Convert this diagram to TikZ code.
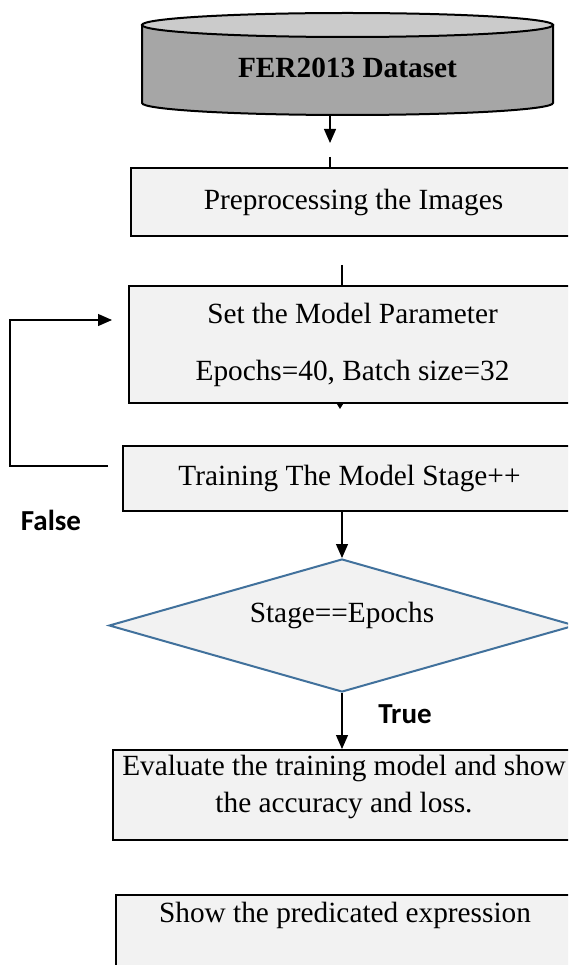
\documentclass[tikz,border=0pt]{standalone}
\usepackage{fontspec}
\setmainfont{Liberation Serif}
\newfontfamily\lblfont{Carlito}
\usetikzlibrary{shapes.geometric,arrows.meta}
\definecolor{boxfill}{HTML}{F2F2F2}
\definecolor{cyltop}{HTML}{CBCBCB}
\definecolor{cylbody}{HTML}{A6A6A6}
\definecolor{dblue}{HTML}{41719C}
\tikzset{
  x=1pt, y=1pt,
  procbox/.style={draw=black, line width=2pt, fill=boxfill, rectangle, anchor=north west, inner sep=0pt, font=\fontsize{29.3}{34}\selectfont, align=center},
  txt/.style={font=\fontsize{29.3}{34}\selectfont, inner sep=0pt, align=center},
  conn/.style={draw=black, line width=1.2pt},
  arr/.style={conn, -{Triangle[width=12pt,length=14pt]}},
  tf/.style={font=\lblfont\bfseries\fontsize{29}{33}\selectfont, inner sep=0pt}
}
\begin{document}
\begin{tikzpicture}
\useasboundingbox (0,0) rectangle (568,-965);
\clip (0,0) rectangle (568,-965);
% cylinder
\filldraw[fill=cylbody, line width=2pt] (142,-25) -- (142,-103) arc[start angle=180, end angle=360, x radius=205.5, y radius=12] -- (553,-25) -- cycle;
\filldraw[fill=cyltop, line width=2pt] (347.5,-25) ellipse[x radius=205.5, y radius=12];
\node[txt, font=\bfseries\fontsize{29.3}{34}\selectfont] (data) at (347.5,-68) {FER2013 Dataset};
\coordinate (dbot) at (330,-115);
\coordinate (dtip) at (330,-143);
\coordinate (pretop) at (330,-157);
% boxes
\node[procbox, minimum width=445pt, minimum height=68pt] (pre) at (130,-167) {Preprocessing the Images};
\node[procbox, minimum width=447pt, minimum height=117pt, font=\fontsize{29.3}{57}\selectfont] (set) at (128,-285) {Set the Model Parameter\\Epochs=40, Batch size=32};
\node[procbox, minimum width=453pt, minimum height=65pt] (train) at (122,-445) {Training The Model Stage++};
\node[draw=dblue, line width=2pt, fill=boxfill, diamond, minimum width=466pt, minimum height=133pt, inner sep=0pt] (dec) at (342,-625.5) {};
\node[txt] (dectxt) at (342,-615) {Stage==Epochs};
\node[procbox, minimum width=463pt, minimum height=90pt] (eval) at (112,-749) {};
\node[txt, font=\fontsize{29.3}{37}\selectfont] (evaltxt) at (344,-787) {Evaluate the training model and show\\the accuracy and loss.};
\node[procbox, minimum width=460pt, minimum height=100pt] (show) at (115,-894) {};
\node[txt] (showtxt) at (345,-915) {Show the predicated expression};
% connectors
\draw[arr] (dbot) -- (dtip);
\draw[conn] (pretop) -- (pretop |- pre.north);
\coordinate (p1) at (342,-265);
\draw[conn] (p1) -- (p1 |- set.north);
\coordinate (sb) at (340,-402);
\draw[conn, -{Triangle[width=7pt,length=6pt]}] (sb) -- ++(0,-7);
\coordinate (fb1) at (108,-466);
\coordinate (fb2) at (10,-466);
\coordinate (fb3) at (10,-320);
\coordinate (fb4) at (112,-320);
\draw[arr] (fb1) -- (fb2) -- (fb3) -- (fb4);
\coordinate (tb) at (342,-510);
\draw[arr] (tb) -- (tb |- dec.north);
\draw[arr] (dec.south) -- (342,-749);
\node[tf] (false) at (51,-520) {False};
\node[tf] (true) at (405,-714) {True};
\end{tikzpicture}
\end{document}
